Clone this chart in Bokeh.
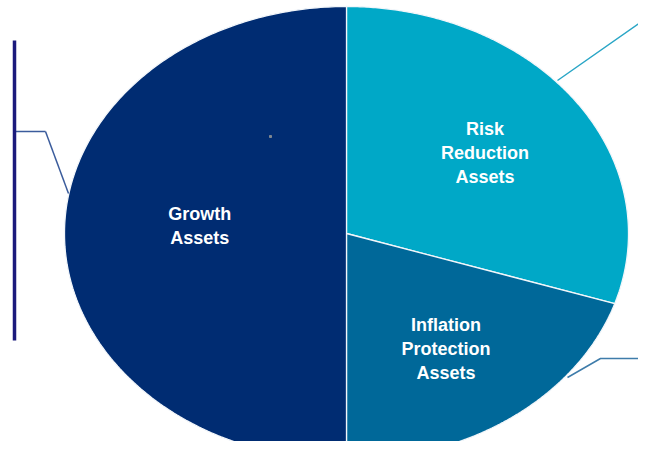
import numpy as np
from bokeh.plotting import figure
from bokeh.models import Range1d, ColumnDataSource
from bokeh.core.properties import value
from bokeh.embed import file_html
from bokeh.resources import INLINE

# ---- data ----
categories = ["Risk Reduction Assets", "Inflation Protection Assets", "Growth Assets"]
shares = [30, 20, 50]
labels = ["Risk\nReduction\nAssets", "Inflation\nProtection\nAssets", "Growth\nAssets"]
colors = ["#00A8C7", "#006899", "#002C72"]

# ---- layout (pixel space of the reference picture) ----
CX, CY, RX, RY = 346.0, 233.0, 282.0, 227.0
START_DEG = 90.0                       # slices run clockwise from 12 o'clock
LABEL_FRAC = [0.607, 0.60, 0.52]
LABEL_DY = [0.0, 5.0, -8.0]

total = float(sum(shares))
xs, ys, lx, ly = [], [], [], []
a = START_DEG
for s, f, dy in zip(shares, LABEL_FRAC, LABEL_DY):
    sweep = 360.0 * s / total
    t = np.radians(np.linspace(a, a - sweep, 240))
    xs.append([CX] + list(CX + RX * np.cos(t)) + [CX])
    ys.append([CY] + list(CY - RY * np.sin(t)) + [CY])
    mid = np.radians(a - sweep / 2.0)
    lx.append(CX + f * RX * np.cos(mid))
    ly.append(CY - f * RY * np.sin(mid) + dy)
    a -= sweep

src = ColumnDataSource(dict(xs=xs, ys=ys, color=colors, cat=categories))
lsrc = ColumnDataSource(dict(x=lx, y=ly, text=labels))

p = figure(width=638, height=441, output_backend="svg", toolbar_location=None,
           x_range=Range1d(0, 638), y_range=Range1d(441, 0),
           x_axis_type=None, y_axis_type=None, min_border=0,
           background_fill_color="white", border_fill_color="white")
p.grid.visible = False
p.outline_line_color = None

p.patches("xs", "ys", source=src, fill_color="color", line_color="#F2F6FA",
          line_width=1.3)

# leader lines & left bracket
lead_xs = [[45, 14], [557, 647, 660], [567, 600, 660], [45, 68]]
lead_ys = [[131, 131], [80, 17, 17], [377, 358, 358], [131, 193]]
lead_cols = ["#3B5C9C", "#2AA6C6", "#3E7CAA", "#3B5C9C"]
p.multi_line(lead_xs, lead_ys, line_color=lead_cols, line_width=1.5)
p.line([14, 14], [40, 340], line_color="#1B1A7C", line_width=3.5)
p.scatter([270], [136], size=2, marker="square", color="#7F8790")

p.text("x", "y", text="text", source=lsrc, text_color="white",
       text_font=value("Liberation Sans"), text_font_size="18px",
       text_font_style="bold", text_align="center", text_baseline="middle",
       text_line_height=1.2)

open("out.html", "w").write(file_html(p, INLINE))
